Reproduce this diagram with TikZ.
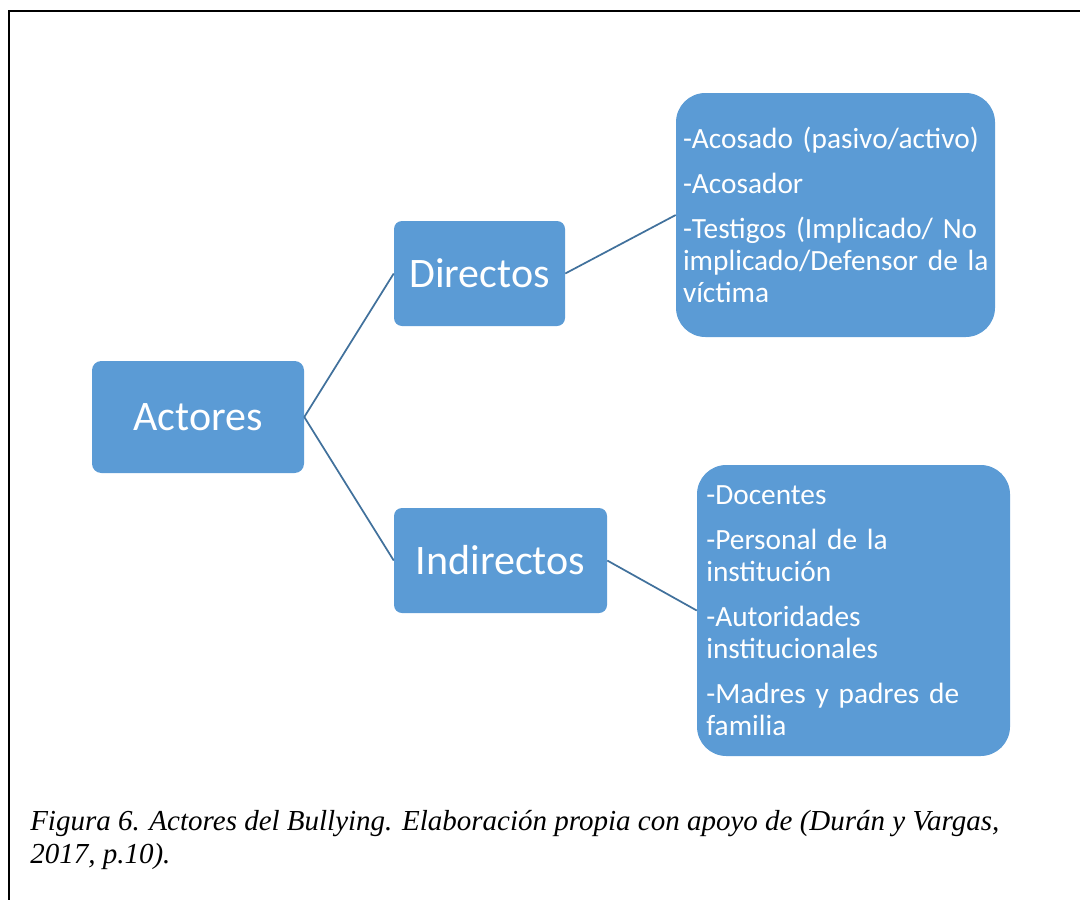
\documentclass[tikz,border=0pt]{standalone}
\usepackage{fontspec}
\setmainfont{Carlito}
\newfontfamily\capfont{Liberation Serif}
\definecolor{boxblue}{HTML}{5B9BD5}
\definecolor{linkblue}{HTML}{41719C}
\begin{document}
\begin{tikzpicture}[x=0.75pt,y=-0.75pt,
  box/.style={draw=none,fill=boxblue,text=white,rectangle,inner sep=0pt,font=\fontsize{31.5}{36}\selectfont},
  listbox/.style={draw=none,fill=boxblue,text=white,rectangle,inner ysep=0pt,align=left,rounded corners=22pt,font=\fontsize{22}{24}\selectfont},
  conn/.style={draw=linkblue,line width=1.3pt},
  frame/.style={draw=black,line width=1.5pt}
]
\useasboundingbox (0,0) rectangle (1080,899);
\draw[frame] (9,905) -- (9,11) -- (1090,11);

\node[box,rounded corners=7pt,minimum width=159pt,minimum height=84pt] (act) at (198,417) {Actores};
\node[box,rounded corners=6pt,minimum width=128.25pt,minimum height=78.75pt] (dir) at (479.5,273.5) {Directos};
\node[box,rounded corners=6pt,minimum width=159.75pt,minimum height=78.75pt] (ind) at (500.5,560.5) {Indirectos};

\node[listbox,inner xsep=5.25pt,text width=228.75pt,minimum height=183pt] (dlist) at (835.5,215)
 {\mbox{-Acosado (pasivo/activo)}\\[9.75pt]-Acosador\\[9.75pt]\mbox{-Testigos (Implicado/ No}\\\mbox{implicado/Defensor de la}\\víctima};
\node[listbox,inner xsep=7pt,text width=220.75pt,minimum height=218.25pt] (ilist) at (853.5,610.5)
 {-Docentes\\[9.75pt]\mbox{-Personal de la}\\institución\\[9.75pt]-Autoridades\\institucionales\\[9.75pt]\mbox{-Madres y padres de}\\familia};

\draw[conn] (act.east) -- (dir.west);
\draw[conn] (act.east) -- (ind.west);
\draw[conn] (dir.east) -- (dlist.west);
\draw[conn] (ind.east) -- (ilist.west);

\node[anchor=base west,align=left,inner sep=0pt,font=\capfont\itshape\fontsize{21.75}{24.75}\selectfont] (cap) at (30,863)
 {Figura 6. Actores del Bullying. Elaboración propia con apoyo de (Durán y Vargas,\\2017, p.10).};
\end{tikzpicture}
\end{document}
